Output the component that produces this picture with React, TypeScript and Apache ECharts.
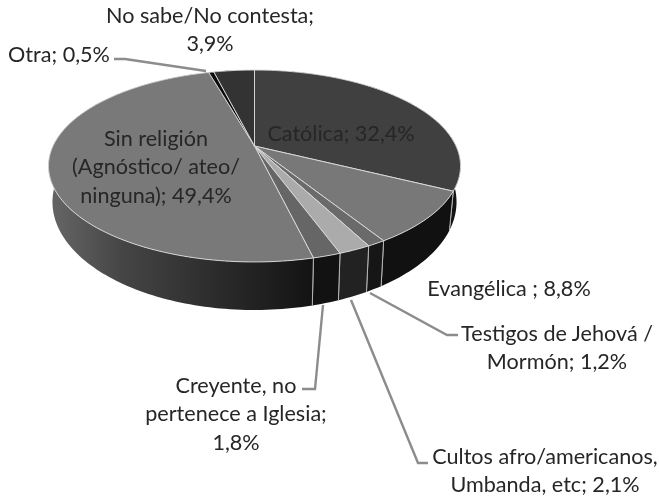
import React, { useEffect, useRef } from "react";
import * as echarts from "echarts";

// ---- data ----
const categories = [
  "Católica",
  "Evangélica ",
  "Testigos de Jehová /\nMormón",
  "Cultos afro/americanos,\nUmbanda, etc",
  "Creyente, no\npertenece a Iglesia",
  "Sin religión\n(Agnóstico/ ateo/\nninguna)",
  "Otra",
  "No sabe/No contesta",
];
const values = [32.4, 8.8, 1.2, 2.1, 1.8, 49.4, 0.5, 3.9];
const valueBreakAfterSemicolon = [false, false, false, false, true, false, false, true];

// ---- styles ----
const topColors = ["#404040", "#787878", "#6a6a6a", "#ababab", "#666666", "#797979", "#0d0d0d", "#333333"];
const sideColors: (string | [string, string])[] = [
  "#141414", "#111111", "#161616", "#222222", "#121212", ["#626262", "#141414"], "#0d0d0d", "#333333",
];
const labelBoxes = [
  { x: 341, y: 133, align: "center" },
  { x: 509, y: 288, align: "center" },
  { x: 557, y: 347, align: "center" },
  { x: 545, y: 470, align: "center" },
  { x: 236, y: 413, align: "center" },
  { x: 156, y: 166, align: "center" },
  { x: 59, y: 54, align: "center" },
  { x: 210, y: 29, align: "center" },
];
const leaders: number[][][] = [
  [], [],
  [[370, 293], [447, 335], [458, 335]],
  [[351, 300], [418, 463], [428, 463]],
  [[323, 305], [315, 389], [302, 389]],
  [],
  [[114, 59], [125, 59], [206, 71]],
  [],
];

// ---- perspective disc ----
const K = 0.2083;
const topDisc = { cx: 254.5, cy: 146, a: 201.5, b: 91.8 };
const bottomDisc = { cx: 254.5, cy: 179.5, a: 197.6, b: 103.3 };
const total = values.reduce((s, v) => s + v, 0);

function project(d: typeof topDisc, pct: number): number[] {
  const t = (pct / 100) * 2 * Math.PI;
  const u = Math.sin(t);
  const v = -Math.cos(t);
  const w = 1 - K * v;
  return [d.cx + (d.a * u) / w, d.cy + (d.b * v) / w];
}
function arc(d: typeof topDisc, from: number, to: number): number[][] {
  const n = Math.max(2, Math.ceil((to - from) * 3));
  const pts: number[][] = [];
  for (let i = 0; i <= n; i++) pts.push(project(d, from + ((to - from) * i) / n));
  return pts;
}
function range(i: number): [number, number] {
  let s = 0;
  for (let j = 0; j < i; j++) s += values[j];
  return [(s / total) * 100, ((s + values[i]) / total) * 100];
}

const seriesData = values.map((v, i) => [v, i]);

function renderWall(_p: any, api: any) {
  const i = api.value(1) as number;
  const [a, b] = range(i);
  const top = arc(topDisc, a, b);
  const bottom = arc(bottomDisc, a, b).reverse();
  const c = sideColors[i];
  const fill = Array.isArray(c)
    ? new echarts.graphic.LinearGradient(60, 0, 310, 0, [
        { offset: 0, color: c[0] },
        { offset: 0.25, color: "#454545" },
        { offset: 0.65, color: "#2a2a2a" },
        { offset: 1, color: c[1] },
      ], true)
    : c;
  const children: any[] = [{ type: "polygon", shape: { points: [...top, ...bottom] }, style: { fill, stroke: "none" } }];
  const bounds = [a, b];
  bounds.forEach((pct) => {
    const [x1, y1] = project(topDisc, pct);
    const [x2, y2] = project(bottomDisc, pct);
    if (-Math.cos((pct / 100) * 2 * Math.PI) > -0.1) {
      children.push({ type: "line", shape: { x1, y1, x2, y2 }, style: { stroke: "#b5b5b5", lineWidth: 1 } });
    }
  });
  return { type: "group", children };
}

function renderTop(_p: any, api: any) {
  const i = api.value(1) as number;
  const [a, b] = range(i);
  const points = [[topDisc.cx, topDisc.cy], ...arc(topDisc, a, b)];
  return {
    type: "polygon",
    shape: { points },
    style: { fill: topColors[i], stroke: "#dcdcdc", lineWidth: 0.9 },
  };
}

const pct = (v: number) => v.toFixed(1).replace(".", ",") + "%";

export default function App() {
  const ref = useRef<HTMLDivElement>(null);
  useEffect(() => {
    document.body.style.margin = "0";
    document.body.style.background = "#fff";
    const chart = echarts.init(ref.current!, null, { renderer: "svg" });
    const graphics: any[] = [];
    leaders.forEach((pts) => {
      if (pts.length)
        graphics.push({
          type: "polyline",
          z: 5,
          shape: { points: pts },
          style: { stroke: "#8c8c8c", lineWidth: 2.4, fill: "none" },
        });
    });
    categories.forEach((name, i) => {
      const sep = valueBreakAfterSemicolon[i] ? ";\n" : "; ";
      const box = labelBoxes[i];
      graphics.push({
        type: "text",
        z: 10,
        x: box.x,
        y: box.y,
        style: {
          text: name + sep + pct(values[i]),
          font: '21.6px Lato, "Open Sans", sans-serif',
          fill: "#262626",
          align: box.align,
          verticalAlign: "middle",
          lineHeight: 28.5,
        },
      });
    });
    chart.setOption({
      animation: false,
      backgroundColor: "#ffffff",
      graphic: graphics,
      series: [
        { type: "custom", coordinateSystem: "none", z: 1, silent: true, renderItem: renderWall, data: seriesData },
        { type: "custom", coordinateSystem: "none", z: 2, silent: true, renderItem: renderTop, data: seriesData },
      ],
    });
    return () => chart.dispose();
  }, []);
  return <div ref={ref} style={{ width: 659, height: 498, filter: "blur(0.6px)" }} />;
}
